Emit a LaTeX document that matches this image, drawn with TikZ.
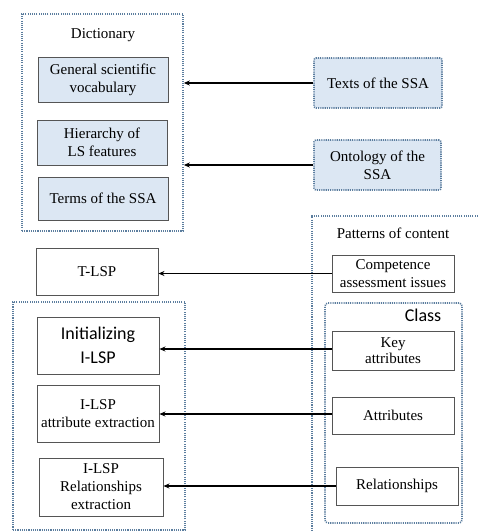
\documentclass[tikz,border=0pt]{standalone}
\usepackage{fontspec}
\setmainfont{Liberation Serif}
\newfontfamily\serx{Liberation Serif}
\newfontfamily\calib{Carlito}
\usetikzlibrary{arrows.meta}
\definecolor{dotc}{HTML}{5B7D9E}
\definecolor{boxfill}{HTML}{DCE7F3}
\definecolor{boxline}{HTML}{555555}
\begin{document}
\begin{tikzpicture}[x=1pt,y=-1pt,
  txt/.style={font=\serx\fontsize{15}{18}\selectfont, align=center, inner sep=0pt},
  plainbox/.style={txt, draw=boxline, line width=0.9pt, fill=white},
  bluebox/.style={txt, draw=boxline, line width=0.9pt, fill=boxfill},
  dotbox/.style={draw=dotc, line width=1.6pt, dash pattern=on 1.1pt off 1.1pt, inner sep=0pt},
  dotblue/.style={txt, dotbox, fill=boxfill, rounded corners=2pt},
  arr/.style={line width=1.6pt, -{Stealth[length=6pt,width=5pt]}}]
\useasboundingbox (0,0) rectangle (477,532);
% containers
\node[dotbox, minimum width=161pt, minimum height=217pt] (dict) at (102.5,122.5) {};
\node[dotbox, minimum width=178pt, minimum height=329pt] (pat) at (401,380.5) {};
\node[dotbox, rounded corners=3pt, minimum width=137pt, minimum height=220pt] (cls) at (393.5,413) {};
\node[dotbox, minimum width=172pt, minimum height=228pt] (lft) at (99,416) {};
% labels
\node[txt] (dictlbl) at (103,35) {Dictionary};
\node[txt] (patlbl) at (393,233) {Patterns of content};
\node[font=\calib\fontsize{18}{20}\selectfont, inner sep=0pt] (clslbl) at (423,315) {Class};
% dictionary boxes
\node[bluebox, minimum width=130pt, minimum height=45pt] (gsv) at (103,79.5) {General scientific\\vocabulary};
\node[bluebox, minimum width=130pt, minimum height=45pt] (hier) at (102,142.5) {Hierarchy of\\LS features};
\node[bluebox, minimum width=130pt, minimum height=43pt] (terms) at (103,198.5) {Terms of the SSA};
% right sources
\node[dotblue, minimum width=128pt, minimum height=50pt] (texts) at (378,83) {Texts of the SSA};
\node[dotblue, minimum width=127pt, minimum height=50pt] (onto) at (377.5,165) {Ontology of the\\SSA};
\node[plainbox, minimum width=122pt, minimum height=37pt] (comp) at (393,273.5) {Competence\\assessment issues};
\node[plainbox, font=\serx\fontsize{15}{16}\selectfont, minimum width=122pt, minimum height=39pt] (key) at (393,350.5) {Key\\attributes};
\node[plainbox, minimum width=122pt, minimum height=37pt] (attr) at (393,415.5) {Attributes};
\node[plainbox, minimum width=122pt, minimum height=38pt] (rel) at (397,486) {Relationships};
% left targets
\node[plainbox, minimum width=122pt, minimum height=47pt] (tlsp) at (97,271.5) {T-LSP};
\node[plainbox, font=\calib\fontsize{18}{24}\selectfont, minimum width=122pt, minimum height=57pt] (init) at (98,345.5) {Initializing\\I-LSP};
\node[plainbox, minimum width=122pt, minimum height=57pt] (iattr) at (98,413.5) {I-LSP\\attribute extraction};
\node[plainbox, minimum width=124pt, minimum height=58pt] (irel) at (101,487) {I-LSP\\Relationships\\extraction};
% arrows
\draw[arr] (texts.west) -- (texts.west -| dict.east);
\draw[arr] (onto.west) -- (onto.west -| dict.east);
\draw[arr] (comp.west) -- (comp.west -| tlsp.east);
\draw[arr] ([yshift=1.5pt]key.west) -- ([yshift=1.5pt]key.west -| init.east);
\draw[arr] ([yshift=1.5pt]attr.west) -- ([yshift=1.5pt]attr.west -| iattr.east);
\draw[arr] (rel.west) -- (rel.west -| irel.east);
\end{tikzpicture}
\end{document}
